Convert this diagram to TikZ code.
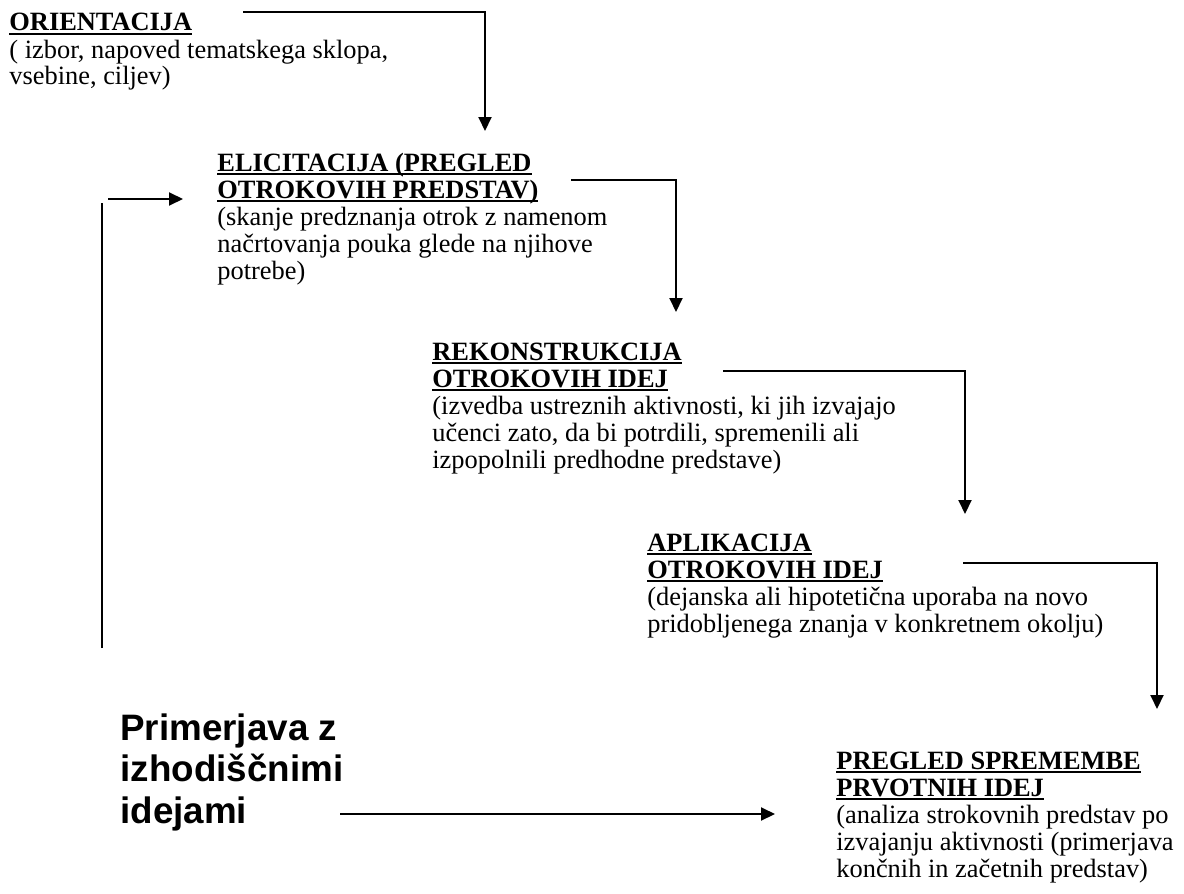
\documentclass[tikz,border=0pt]{standalone}
\usepackage{fontspec}
\setmainfont{Liberation Serif}
\newfontfamily\bigsans{Liberation Sans}
\usetikzlibrary{arrows.meta}
\newcommand\hdul[1]{\setbox0\hbox{\bfseries #1}\rlap{\rule[-2.2pt]{\wd0}{1.1pt}}\box0}
\tikzset{
  blk/.style={anchor=base west, inner sep=0pt, font=\fontsize{13.2}{13.5}\selectfont},
  big/.style={anchor=base west, inner sep=0pt, font=\bigsans\bfseries\fontsize{18.4}{20.8}\selectfont},
  con/.style={line width=1pt, -{Triangle[length=7pt,width=6.5pt]}},
  ln/.style={line width=1pt},
}
\begin{document}
\begin{tikzpicture}[x=0.5pt,y=-0.5pt]
\useasboundingbox (0,0) rectangle (1184,894);

\node[blk] (ori) at (9,31) {\vtop{\hbox{\hdul{ORIENTACIJA}}\hbox{( izbor, napoved tematskega sklopa,}\hbox{vsebine, ciljev)}}};

\node[blk] (eli) at (217,171) {\vtop{\hbox{\hdul{ELICITACIJA (PREGLED}}\hbox{\hdul{OTROKOVIH PREDSTAV)}}\hbox{(skanje predznanja otrok z namenom}\hbox{načrtovanja pouka glede na njihove}\hbox{potrebe)}}};

\node[blk] (rek) at (432,360) {\vtop{\hbox{\hdul{REKONSTRUKCIJA}}\hbox{\hdul{OTROKOVIH IDEJ}}\hbox{(izvedba ustreznih aktivnosti, ki jih izvajajo}\hbox{učenci zato, da bi potrdili, spremenili ali}\hbox{izpopolnili predhodne predstave)}}};

\node[blk] (apl) at (647,551) {\vtop{\hbox{\hdul{APLIKACIJA}}\hbox{\hdul{OTROKOVIH IDEJ}}\hbox{(dejanska ali hipotetična uporaba na novo}\hbox{pridobljenega znanja v konkretnem okolju)}}};

\node[blk] (pre) at (836,769) {\vtop{\hbox{\hdul{PREGLED SPREMEMBE}}\hbox{\hdul{PRVOTNIH IDEJ}}\hbox{(analiza strokovnih predstav po}\hbox{izvajanju aktivnosti (primerjava}\hbox{končnih in začetnih predstav)}}};

\node[big] (cmp) at (120,740) {\vtop{\hbox{Primerjava z}\hbox{izhodiščnimi}\hbox{idejami}}};

% connectors
\coordinate (c1s) at (243,12);
\coordinate (c1e) at (485,131);
\draw[con] (c1s) -| (c1e);

\coordinate (c2s) at (571,180);
\coordinate (c2e) at (676,312);
\draw[con] (c2s) -| (c2e);

\coordinate (c3s) at (723,371);
\coordinate (c3e) at (965,514);
\draw[con] (c3s) -| (c3e);

\coordinate (c4s) at (963,563);
\coordinate (c4e) at (1157,709);
\draw[con] (c4s) -| (c4e);

\coordinate (c5s) at (340,814);
\coordinate (c5e) at (775,814);
\draw[con] (c5s) -- (c5e);

\coordinate (l1) at (102,648);
\coordinate (l2) at (102,203);
\draw[ln] (l1) -- (l2);

\coordinate (a1) at (108,199);
\coordinate (a2) at (183,199);
\draw[con] (a1) -- (a2);
\end{tikzpicture}
\end{document}
